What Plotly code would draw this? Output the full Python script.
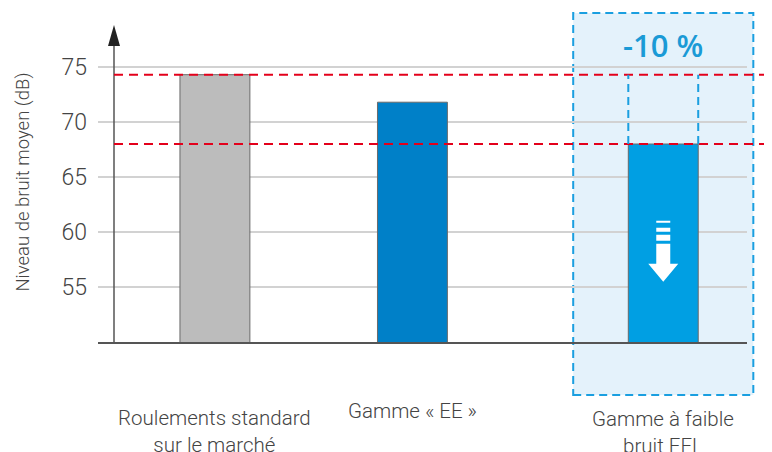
"""
plot.py - average noise level of bearing ranges (bar chart with -10 % callout)
"""
import plotly.graph_objects as go

# data
categories = ["Roulements standard<br>sur le marché", "Gamme « EE »", "Gamme à faible<br>bruit EEL"]
noise_db = [74.3, 71.8, 68.0]
bar_colors = ["#bcbcbc", "#0080c8", "#009fe3"]
y_ticks = [55, 60, 65, 70, 75]
callout_text = "-10 %"
y_title = "Niveau de bruit moyen (dB)"

# layout helpers (positions, not data)
bar_x = [0, 1, 2.27]
bar_w = 0.354
x_range = [-0.592, 2.694]
y_range = [50, 79]
axis_x = -0.511
FONT = "Roboto"
TXT = "#444444"
BLUE = "#1a9fe0"
RED = "#e3001b"


def xpaper(v):
    return (v - x_range[0]) / (x_range[1] - x_range[0])


fig = go.Figure()
fig.add_trace(go.Bar(x=bar_x, y=noise_db, width=bar_w,
                     marker=dict(color=bar_colors, line=dict(color="#6a6a6a", width=1)),
                     hoverinfo="skip"))

shapes = []
# light blue callout box behind the EEL bar
shapes.append(dict(type="rect", xref="paper", yref="paper", layer="below",
                   x0=xpaper(bar_x[2] - 0.456), x1=xpaper(bar_x[2] + 0.456),
                   y0=-0.166, y1=1.031,
                   fillcolor="#e4f2fb", line=dict(color=BLUE, width=2, dash="8px,5px")))
# vertical axis with arrow
shapes.append(dict(type="line", xref="x", yref="y", x0=axis_x, x1=axis_x, y0=50, y1=76.9,
                   line=dict(color="#555555", width=1.5)))
shapes.append(dict(type="path", xref="x", yref="y", xsizemode="pixel", ysizemode="pixel",
                   xanchor=axis_x, yanchor=76.9, path="M -6,0 L 0,21 L 6,0 Z",
                   fillcolor="#222222", line=dict(width=0)))
# red reference lines
for v in (noise_db[0], noise_db[2]):
    shapes.append(dict(type="line", xref="paper", yref="y", x0=xpaper(axis_x), x1=1.05,
                       y0=v, y1=v, line=dict(color=RED, width=2, dash="9px,6px")))
# dashed outline of the removed part of the EEL bar
for xe in (bar_x[2] - bar_w / 2, bar_x[2] + bar_w / 2):
    shapes.append(dict(type="line", xref="x", yref="y", x0=xe, x1=xe,
                       y0=noise_db[2], y1=noise_db[0],
                       line=dict(color=BLUE, width=2, dash="8px,5px")))
# white down arrow icon in the EEL bar
icon = ("M -7,30 L 7,30 L 7,28 L -7,28 Z "
        "M -7,23 L 7,23 L 7,19 L -7,19 Z "
        "M -7,16 L 7,16 L 7,10 L -7,10 Z "
        "M -7,7 L 7,7 L 7,-13 L 15,-13 L 0,-31 L -15,-13 L -7,-13 Z")
shapes.append(dict(type="path", xref="x", yref="y", xsizemode="pixel", ysizemode="pixel",
                   xanchor=bar_x[2], yanchor=58.3, path=icon,
                   fillcolor="white", line=dict(width=0)))

annotations = []
# category labels under the bars
label_y = [-0.279, -0.216, -0.285]
for xv, lab, ly in zip(bar_x, categories, label_y):
    annotations.append(dict(x=xv, xref="x", y=ly, yref="paper", text=lab, showarrow=False,
                            font=dict(family=FONT, size=20.5, color=TXT, weight=300),
                            yanchor="middle", xanchor="center"))
annotations.append(dict(x=bar_x[2], xref="x", y=0.931, yref="paper", text=callout_text,
                        showarrow=False, xanchor="center", yanchor="middle",
                        font=dict(family="Open Sans", size=31, color="#1a9ad6", weight=600)))
annotations.append(dict(x=-0.117, xref="paper", y=0.5, yref="paper", text=y_title,
                        textangle=-90, showarrow=False, xanchor="center", yanchor="middle",
                        font=dict(family=FONT, size=18.5, color=TXT, weight=300)))

# the page adds an 8px body margin, so the figure is drawn 8px smaller
fig.update_layout(
    width=764, height=444,
    margin=dict(l=90, r=25, t=15, b=110),
    plot_bgcolor="white", paper_bgcolor="white",
    showlegend=False,
    shapes=shapes,
    annotations=annotations,
    xaxis=dict(range=x_range, showgrid=False, zeroline=False, showticklabels=False,
               showline=True, linecolor="#555555", linewidth=1.5, fixedrange=True),
    yaxis=dict(range=y_range, tickvals=y_ticks, showgrid=True, gridcolor="#d2d2d2", gridwidth=1.5,
               zeroline=False, showline=False, ticks="", ticklabelstandoff=10,
               tickfont=dict(family=FONT, size=23, color=TXT, weight=300), fixedrange=True),
)

fig.write_html("out.html")
